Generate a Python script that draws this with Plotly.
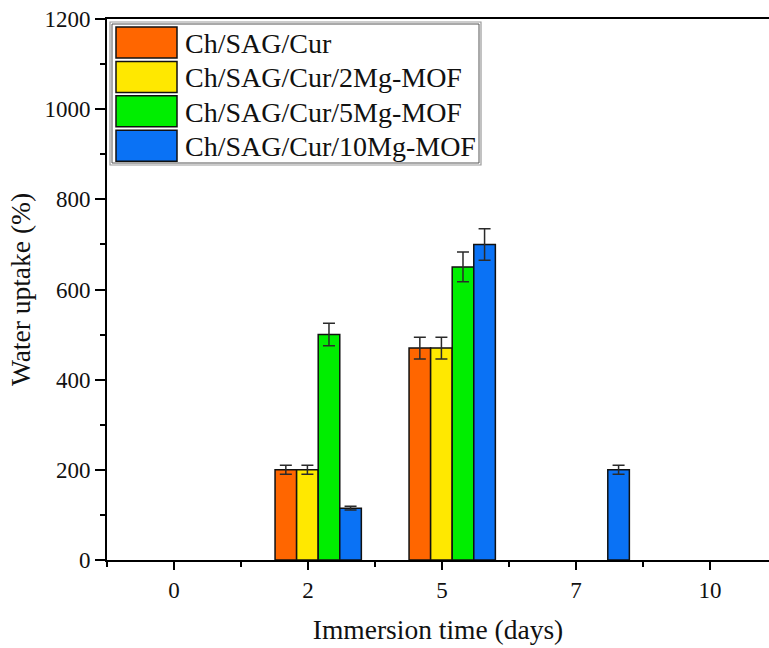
import plotly.graph_objects as go

# ---- data ----
categories = ["0", "2", "5", "7", "10"]
series_names = ["Ch/SAG/Cur", "Ch/SAG/Cur/2Mg-MOF", "Ch/SAG/Cur/5Mg-MOF", "Ch/SAG/Cur/10Mg-MOF"]
ch_sag_cur = [None, 200, 470, None, None]
ch_sag_cur_2mg = [None, 200, 470, None, None]
ch_sag_cur_5mg = [None, 500, 650, None, None]
ch_sag_cur_10mg = [None, 115, 700, 200, None]
err_ch_sag_cur = [None, 10, 24, None, None]
err_ch_sag_cur_2mg = [None, 10, 24, None, None]
err_ch_sag_cur_5mg = [None, 25, 33, None, None]
err_ch_sag_cur_10mg = [None, 4, 35, 10, None]
y_ticks = [0, 200, 400, 600, 800, 1000, 1200]

values = [ch_sag_cur, ch_sag_cur_2mg, ch_sag_cur_5mg, ch_sag_cur_10mg]
errors = [err_ch_sag_cur, err_ch_sag_cur_2mg, err_ch_sag_cur_5mg, err_ch_sag_cur_10mg]
colors = ["#FF6600", "#FFE800", "#00EE00", "#0A72F5"]

FONT = "Liberation Serif"
xpos = list(range(len(categories)))
bar_w = 0.161
offsets = [-0.246, -0.085, 0.076, 0.237]

fig = go.Figure()
for name, vals, errs, col, off in zip(series_names, values, errors, colors, offsets):
    fig.add_trace(go.Bar(
        x=xpos, y=vals, name=name,
        width=bar_w, offset=off,
        marker=dict(color=col, line=dict(color="#111111", width=1.5)),
        error_y=dict(type="data", array=errs, visible=True,
                     color="#2a2a2a", thickness=1.5, width=6),
        showlegend=False,
    ))

# custom legend (large swatches like the original)
shapes = []
annotations = []
L_x0, L_x1, L_y0, L_y1 = 110, 481, 22, 165
W, H = 769, 648
ml, mr, mt, mb = 107, 0, 19, 88

def px_x(p):
    return (p - ml) / (W - ml - mr)

def px_y(p):
    return 1 - (p - mt) / (H - mt - mb)

shapes.append(dict(type="rect", xref="paper", yref="paper",
                   x0=px_x(L_x0), x1=px_x(L_x1), y0=px_y(L_y1), y1=px_y(L_y0),
                   line=dict(color="#9a9a9a", width=1.2), fillcolor="white", layer="above"))
shapes.append(dict(type="rect", xref="paper", yref="paper",
                   x0=px_x(L_x0 + 2), x1=px_x(L_x1 - 2), y0=px_y(L_y1 - 2), y1=px_y(L_y0 + 2),
                   line=dict(color="#555555", width=1), layer="above"))
for i, (name, col) in enumerate(zip(series_names, colors)):
    top = 27 + i * 34.4
    shapes.append(dict(type="rect", xref="paper", yref="paper",
                       x0=px_x(116), x1=px_x(177), y0=px_y(top + 31), y1=px_y(top),
                       line=dict(color="#111111", width=1.5), fillcolor=col, layer="above"))
    annotations.append(dict(xref="paper", yref="paper", x=px_x(183), y=px_y(top + 16.5),
                            text=name, showarrow=False, xanchor="left", yanchor="middle",
                            font=dict(family=FONT, size=28, color="#111111")))

fig.update_layout(
    width=W, height=H,
    margin=dict(l=ml, r=mr, t=mt, b=mb),
    paper_bgcolor="white", plot_bgcolor="white",
    barmode="overlay",
    font=dict(family=FONT, color="#111111"),
    shapes=shapes, annotations=annotations,
    xaxis=dict(
        range=[-0.5, 4.44],
        tickmode="array", tickvals=xpos, ticktext=categories,
        ticks="outside", ticklen=8, tickwidth=2, tickcolor="black",
        showline=True, linecolor="black", linewidth=2, mirror=True,
        showgrid=False, zeroline=False,
        tickfont=dict(family=FONT, size=23, color="#111111"),
        minor=dict(ticks="outside", ticklen=5, tickwidth=2, tickcolor="black",
                   tickmode="linear", tick0=0.5, dtick=1, showgrid=False),
        title=dict(text="Immersion time (days)", standoff=18,
                   font=dict(family=FONT, size=27.5, color="#111111")),
    ),
    yaxis=dict(
        range=[0, 1200],
        tickmode="array", tickvals=y_ticks,
        ticks="outside", ticklen=10, tickwidth=2, tickcolor="black",
        showline=True, linecolor="black", linewidth=2,
        showgrid=False, zeroline=False,
        tickfont=dict(family=FONT, size=23, color="#111111"),
        minor=dict(ticks="outside", ticklen=5, tickwidth=2, tickcolor="black",
                   tickmode="linear", tick0=0, dtick=100, showgrid=False),
        title=dict(text="Water uptake (%)", standoff=6,
                   font=dict(family=FONT, size=27.5, color="#111111")),
    ),
)

fig.write_html("out.html")
